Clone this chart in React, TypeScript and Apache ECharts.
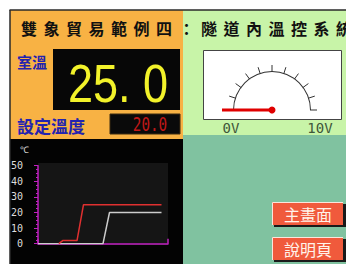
import React, { useEffect, useRef } from 'react';
import * as echarts from 'echarts';

const titleChars = ['雙', '象', '貿', '易', '範', '例', '四', '：', '隧', '道', '內', '溫', '控', '系', '統'];
const roomTempLabel = '室溫';
const roomTempText = '25. 0';
const setTempLabel = '設定溫度';
const setTempText = '20.0';
const gaugeValue = [0];
const gaugeMin = 0;
const gaugeMax = 10;
const gaugeEndLabels = ['0V', '10V'];
const buttonLabels = ['主畫面', '說明頁'];
const unitName = '℃';
const yMin = 0;
const yMax = 50;
const yStep = 10;
const xMin = 0;
const xMax = 100;
const setTime = [0, 50, 55, 95];
const setValues = [0, 0, 20, 20];
const roomTime = [16, 19, 30, 35, 95];
const roomValues = [0, 2, 2, 25, 25];

const CJK = '"Noto Sans CJK TC", "Noto Sans CJK SC", sans-serif';
const MONO = '"DejaVu Sans Mono", monospace';

export default function App() {
  const ref = useRef<HTMLDivElement>(null);
  useEffect(() => {
    if (!ref.current) return;
    const chart = echarts.init(ref.current, null, { renderer: 'svg' });
    const g: any[] = [];
    // backgrounds
    g.push({ type: 'rect', z: -5, shape: { x: 10, y: 10, width: 173, height: 130 }, style: { fill: '#f8b244' } });
    g.push({ type: 'rect', z: -5, shape: { x: 183, y: 10, width: 163, height: 125 }, style: { fill: '#c8f4a8' } });
    g.push({ type: 'rect', z: -5, shape: { x: 183, y: 135, width: 163, height: 129 }, style: { fill: '#80c2a0' } });
    g.push({ type: 'rect', z: -5, shape: { x: 10, y: 139, width: 173, height: 125 }, style: { fill: '#030303' } });
    g.push({ type: 'rect', z: -4, shape: { x: 38, y: 163, width: 130, height: 82 }, style: { fill: '#151515' } });
    g.push({ type: 'line', z: -4, shape: { x1: 9.5, y1: 10, x2: 346, y2: 10 }, style: { stroke: '#2a2a2a', lineWidth: 1.5 } });
    g.push({ type: 'line', z: -4, shape: { x1: 10, y1: 10, x2: 10, y2: 264 }, style: { stroke: '#2a2a2a', lineWidth: 1.5 } });
    // title
    titleChars.forEach((c, i) => {
      g.push({
        type: 'text', z: 1, x: 29 + 22.5 * i, y: 28,
        style: { text: c, fill: '#111', fontSize: 16, fontWeight: 'bold', fontFamily: CJK, align: 'center', verticalAlign: 'middle' }
      });
    });
    // room temperature
    g.push({ type: 'text', z: 1, x: 17, y: 61, style: { text: roomTempLabel, fill: '#2222b0', fontSize: 15, fontWeight: 'bold', fontFamily: CJK, align: 'left', verticalAlign: 'middle' } });
    g.push({ type: 'rect', z: -3, shape: { x: 53, y: 49, width: 127, height: 61 }, style: { fill: '#070707' } });
    g.push({ type: 'text', z: 1, x: 118, y: 83, scaleX: 0.85, style: { text: roomTempText, fill: '#f2f22a', fontSize: 53, fontFamily: '"Liberation Sans", Arial, sans-serif', align: 'center', verticalAlign: 'middle' } });
    // set temperature
    g.push({ type: 'text', z: 1, x: 17, y: 125, style: { text: setTempLabel, fill: '#2222b0', fontSize: 17, fontWeight: 'bold', fontFamily: CJK, align: 'left', verticalAlign: 'middle' } });
    g.push({ type: 'rect', z: -3, shape: { x: 110, y: 114, width: 70, height: 20 }, style: { fill: '#0a0a0a', stroke: '#3a2a10', lineWidth: 1 } });
    g.push({ type: 'text', z: 1, x: 150, y: 124.5, scaleX: 0.75, style: { text: setTempText, fill: '#c01818', fontSize: 19, fontFamily: MONO, align: 'center', verticalAlign: 'middle' } });
    // gauge box
    g.push({ type: 'rect', z: -3, shape: { x: 203.5, y: 50.5, width: 138, height: 69 }, style: { fill: '#ffffff', stroke: '#444', lineWidth: 1 } });
    g.push({ type: 'text', z: 1, x: 231, y: 128, style: { text: gaugeEndLabels[0], fill: '#3e563a', fontSize: 14, fontFamily: MONO, align: 'center', verticalAlign: 'middle' } });
    g.push({ type: 'text', z: 1, x: 320, y: 128, style: { text: gaugeEndLabels[1], fill: '#3e563a', fontSize: 14, fontFamily: MONO, align: 'center', verticalAlign: 'middle' } });
    // buttons
    buttonLabels.forEach((t, i) => {
      const y = 202 + 35 * i;
      g.push({ type: 'rect', z: 1, shape: { x: 274, y: y + 2, width: 72, height: 23 }, style: { fill: '#1a1a1a' } });
      g.push({ type: 'rect', z: 2, shape: { x: 272, y, width: 71, height: 23 }, style: { fill: '#f05a3c' } });
      g.push({ type: 'polyline', z: 3, shape: { points: [[272.5, y + 23], [272.5, y + 0.5], [343, y + 0.5]] }, style: { stroke: '#fbe6dc', lineWidth: 1, fill: null } });
      g.push({ type: 'text', z: 4, x: 308, y: y + 12, style: { text: t, fill: '#fff2ea', fontSize: 16, fontFamily: CJK, align: 'center', verticalAlign: 'middle' } });
    });

    const magenta = '#c020c0';
    chart.setOption({
      animation: false,
      backgroundColor: '#ffffff',
      graphic: g,
      grid: { left: 38, top: 165.7, width: 130, height: 78 },
      xAxis: {
        type: 'value', min: xMin, max: xMax, interval: xMax - xMin, offset: 4,
        axisLine: { show: true, lineStyle: { color: magenta, width: 1.5 } },
        axisTick: { show: true, inside: true, length: 5, lineStyle: { color: magenta, width: 1.5 } },
        axisLabel: { show: false }, splitLine: { show: false }
      },
      yAxis: {
        type: 'value', min: yMin, max: yMax, interval: yStep, offset: 4,
        name: unitName, nameLocation: 'end', nameGap: 11,
        nameTextStyle: { color: '#dddddd', fontSize: 9, align: 'right', padding: [0, 9, 0, 0] },
        axisLine: { show: true, lineStyle: { color: magenta, width: 1.5 } },
        axisTick: { show: true, length: 4, lineStyle: { color: magenta, width: 1 } },
        minorTick: { show: true, splitNumber: 4, length: 2, lineStyle: { color: magenta, width: 1 } },
        axisLabel: { color: '#dddddd', fontSize: 10, fontFamily: MONO, margin: 11 },
        splitLine: { show: false }
      },
      series: [
        {
          type: 'line', name: 'set', data: setTime.map((t, i) => [t, setValues[i]]),
          symbol: 'none', lineStyle: { color: '#cccccc', width: 1.5 }, z: 3
        },
        {
          type: 'line', name: 'room', data: roomTime.map((t, i) => [t, roomValues[i]]),
          symbol: 'none', lineStyle: { color: '#e03030', width: 1.5 }, z: 4
        },
        {
          type: 'gauge', center: [272, 110], radius: 39, startAngle: 180, endAngle: 0,
          min: gaugeMin, max: gaugeMax, splitNumber: 10,
          axisLine: { lineStyle: { width: 1, color: [[1, '#333333']] } },
          splitLine: { length: 7, distance: -7, lineStyle: { color: '#333333', width: 1 } },
          axisTick: { show: false }, axisLabel: { show: false },
          pointer: { icon: 'rect', length: 50, width: 3, offsetCenter: [0, 0], itemStyle: { color: '#e00000' } },
          anchor: { show: true, size: 7, showAbove: true, itemStyle: { color: '#e00000' } },
          title: { show: false }, detail: { show: false },
          data: gaugeValue.map((v) => ({ value: v }))
        }
      ]
    });
    return () => chart.dispose();
  }, []);
  return <div ref={ref} style={{ position: 'fixed', left: 0, top: 0, width: 346, height: 264 }} />;
}
